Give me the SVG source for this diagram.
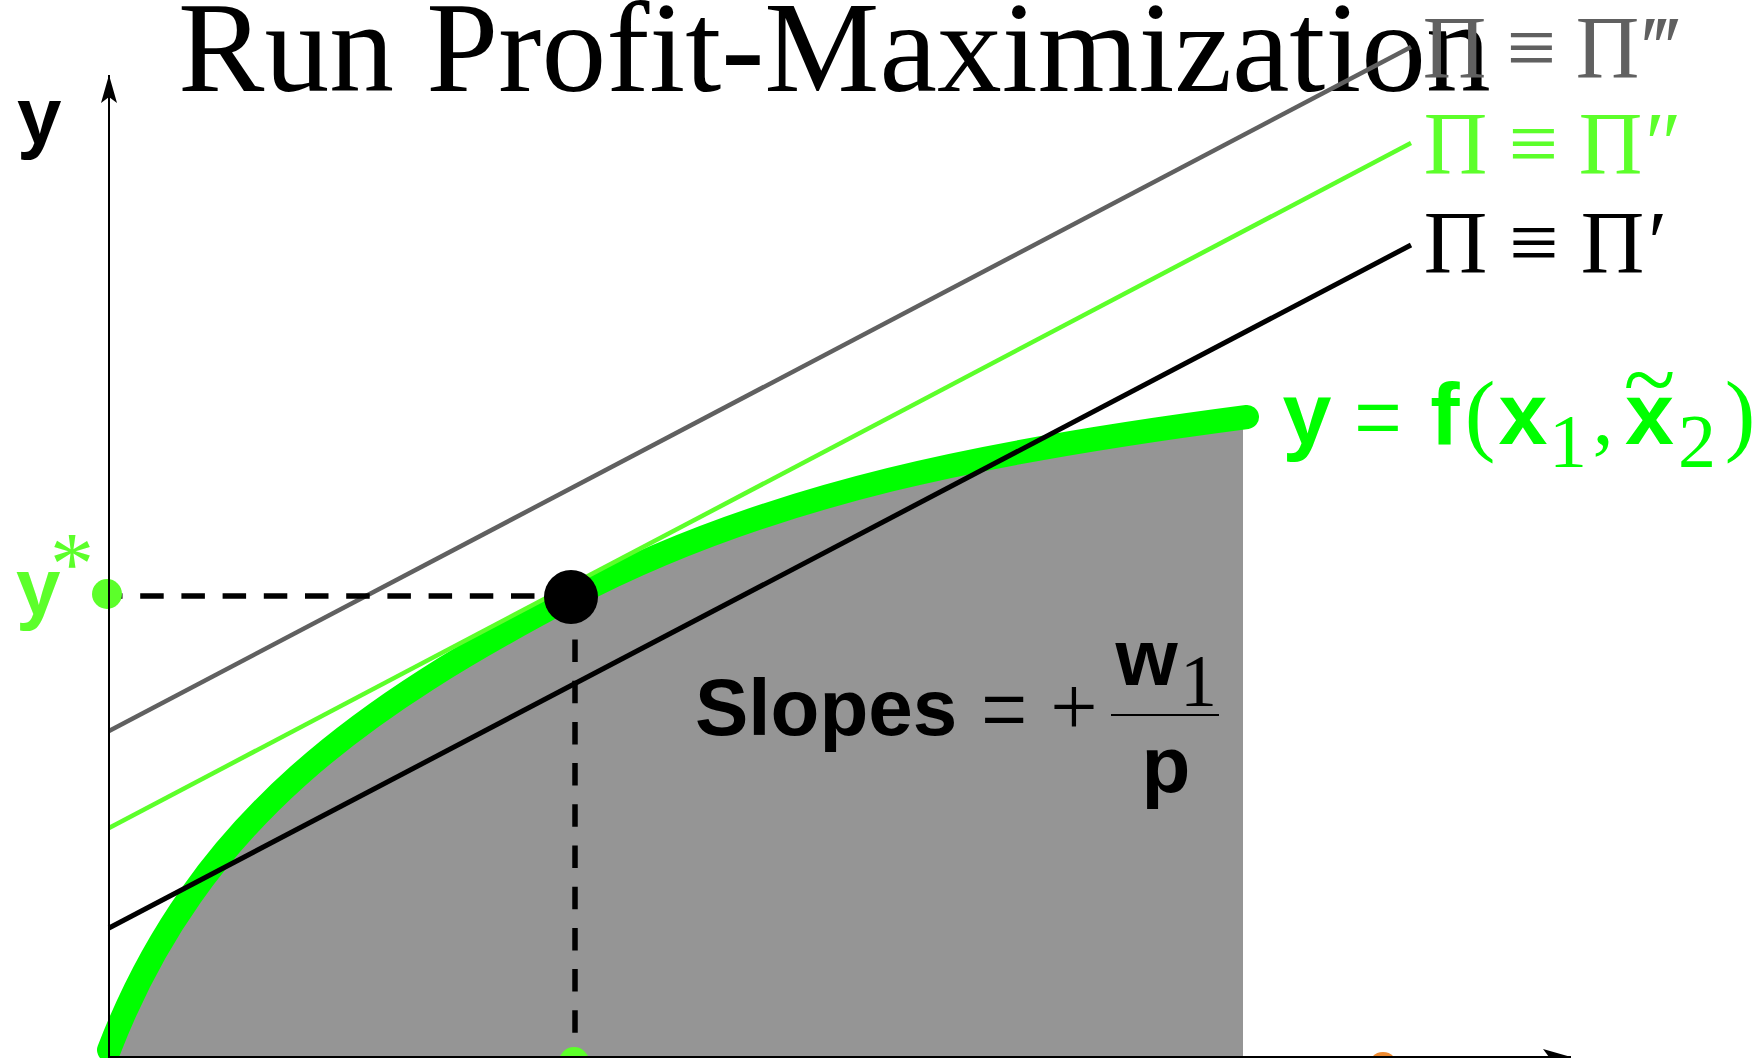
<svg xmlns="http://www.w3.org/2000/svg" width="1762" height="1058" viewBox="0 0 1762 1058">
<style>
.serif{font-family:"Liberation Serif","DejaVu Serif",serif}
.sans{font-family:"Liberation Sans",Arial,sans-serif;font-weight:bold}
.lg{fill:#5CFF2A}
.bk{fill:#000}
.gy{fill:#606060}
.cg{fill:#00FF00}
.dash{stroke:#000;stroke-width:5.5;fill:none;stroke-dasharray:23.5 17.7}
</style>
<defs>
<marker id="arr" viewBox="0 0 28 16" refX="28" refY="8" markerWidth="28" markerHeight="16" markerUnits="userSpaceOnUse" orient="auto">
<path d="M0,0 L28,8 L0,16 L6,8 Z" fill="#000"/>
</marker>
</defs>
<rect width="1762" height="1058" fill="#fff"/>

<g id="title">
<text class="serif bk" x="178" y="91" font-size="129.5">Run Profit-Maximization</text>
</g>

<g id="area">
<path d="M109,1050 C199,816 371,702.4 571,597 C771,491.6 997,449.5 1243,417.5 L1243,1058 L109,1058 Z" fill="#959595"/>
</g>

<g id="curve">
<path d="M109,1050 C199,816 371,702.4 571,597 C771,491.6 997,449.5 1247,417" fill="none" stroke="#00FF00" stroke-width="24" stroke-linecap="round"/>
</g>

<g id="connectors">
<line x1="109" y1="731" x2="1411" y2="47" stroke="#606060" stroke-width="4.5"/>
<line x1="109" y1="828" x2="1411" y2="143" stroke="#5CFF2A" stroke-width="4.5"/>
<line x1="109" y1="928" x2="1411" y2="245" stroke="#000" stroke-width="5"/>
<line class="dash" x1="109" y1="596" x2="548" y2="596" stroke-dashoffset="10"/>
<line class="dash" x1="575" y1="639.5" x2="575" y2="1058" style="stroke-dasharray:22.5 18.7"/>
</g>

<g id="dots">
<circle cx="107" cy="594" r="15" fill="#5CFF2A"/>
<circle cx="574" cy="1062" r="15" fill="#5CFF2A"/>
<circle cx="1383" cy="1067" r="15" fill="#EE8A30"/>
<circle cx="571" cy="597" r="27" fill="#000"/>
</g>

<g id="axes">
<line x1="109" y1="1058" x2="109" y2="75" stroke="#000" stroke-width="2" marker-end="url(#arr)"/>
<line x1="109" y1="1057" x2="1571" y2="1057" stroke="#000" stroke-width="2" marker-end="url(#arr)"/>
</g>

<g id="label-y">
<text class="sans bk" x="17" y="143" font-size="80">y</text>
</g>

<g id="label-ystar">
<text class="lg"><tspan class="sans" x="16" y="614" font-size="80">y</tspan><tspan class="serif" x="72" y="593" font-size="88" text-anchor="middle">*</tspan></text>
</g>

<g id="label-pi3">
<text class="serif gy" y="77" font-size="88"><tspan x="1454.5" text-anchor="middle">Π</tspan><tspan x="1531.5" text-anchor="middle">≡</tspan><tspan x="1607.5" text-anchor="middle">Π</tspan><tspan x="1643">‴</tspan></text>
</g>

<g id="label-pi2">
<text class="serif lg" y="173" font-size="88"><tspan x="1455.5" text-anchor="middle">Π</tspan><tspan x="1533.5" text-anchor="middle">≡</tspan><tspan x="1610.5" text-anchor="middle">Π</tspan><tspan x="1645">″</tspan></text>
</g>

<g id="label-pi1">
<text class="serif bk" y="272" font-size="88"><tspan x="1455.5" text-anchor="middle">Π</tspan><tspan x="1534" text-anchor="middle">≡</tspan><tspan x="1612.5" text-anchor="middle">Π</tspan><tspan x="1648">′</tspan></text>
</g>

<g id="label-f">
<text class="cg" y="444"><tspan class="sans" x="1307" font-size="88" text-anchor="middle">y</tspan><tspan class="sans" x="1445" font-size="88" text-anchor="middle">f</tspan><tspan class="serif" x="1480" font-size="92" text-anchor="middle">(</tspan><tspan class="sans" x="1523" font-size="88" text-anchor="middle">x</tspan><tspan class="serif" x="1568" y="467" font-size="76" text-anchor="middle">1</tspan><tspan class="serif" x="1603" y="444" font-size="85" text-anchor="middle">,</tspan><tspan class="sans" x="1649.5" font-size="88" text-anchor="middle">x</tspan><tspan class="serif" x="1697" y="467" font-size="76" text-anchor="middle">2</tspan><tspan class="serif" x="1740" y="444" font-size="92" text-anchor="middle">)</tspan></text>
<text class="serif cg" transform="scale(1,1.25)" x="1378" y="362.4" font-size="85" text-anchor="middle">=</text>
<text class="serif cg" x="1649.5" y="411" font-size="96" text-anchor="middle">~</text>
</g>

<g id="label-slopes">
<text class="sans bk" x="695" y="735" font-size="80">Slopes</text>
<text class="serif bk" transform="scale(1,1.3)" x="1004" y="573" font-size="82" text-anchor="middle">=</text>
<text class="serif bk" x="1074" y="735" font-size="84" text-anchor="middle">+</text>
<text class="bk"><tspan class="sans" x="1146.5" y="685" font-size="80" text-anchor="middle">w</tspan><tspan class="serif" x="1198.5" y="706" font-size="74" text-anchor="middle">1</tspan></text>
<line x1="1111" y1="715" x2="1219" y2="715" stroke="#000" stroke-width="2"/>
<text class="sans bk" x="1166" y="792" font-size="80" text-anchor="middle">p</text>
</g>
</svg>
